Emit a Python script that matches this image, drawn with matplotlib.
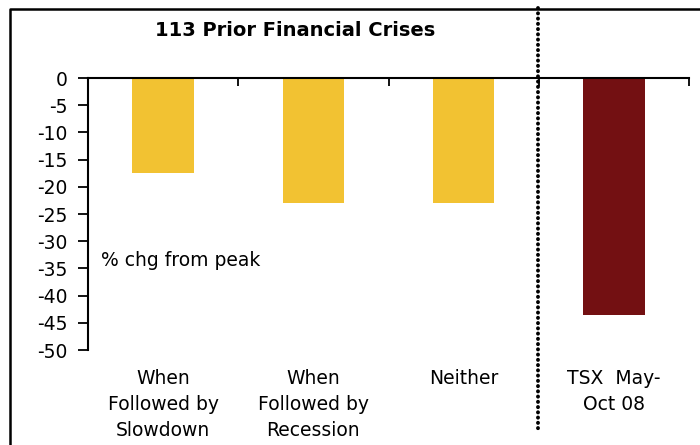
import matplotlib
matplotlib.use("Agg")
import matplotlib.pyplot as plt
from matplotlib.lines import Line2D
import numpy as np

categories = ["When\nFollowed by\nSlowdown", "When\nFollowed by\nRecession", "Neither", "TSX  May-\nOct 08"]
values = [-17.4, -22.9, -22.9, -43.5]
colors = ["#F2C232", "#F2C232", "#F2C232", "#731012"]
yticks = list(range(0, -55, -5))
title = "113 Prior Financial Crises"
note = "% chg from peak"

plt.rcParams['font.family'] = ['DejaVu Sans']
FS = 13.5
W, H = 700, 445
fig = plt.figure(figsize=(7, 4.45), dpi=100)
ax = fig.add_axes([88 / W, 1 - 350 / H, (689 - 88) / W, (350 - 78) / H])

x = np.arange(len(categories))
ax.bar(x, values, width=0.41, color=colors, zorder=2)
ax.set_xlim(-0.5, len(categories) - 0.5)
ax.set_ylim(-50, 0)

ax.set_yticks(yticks)
ax.set_yticklabels([str(v) for v in yticks], fontsize=FS)
ax.tick_params(axis='y', direction='out', length=7, width=1.3, pad=8)

ax.xaxis.tick_top()
ax.set_xticks([])
ax.set_xticks(np.arange(-0.5, len(categories)), minor=True)
ax.tick_params(axis='x', which='minor', direction='in', length=6, width=1.3, top=True, bottom=False)

for s in ['right', 'bottom']:
    ax.spines[s].set_visible(False)
ax.spines['left'].set_linewidth(1.5)
ax.spines['top'].set_linewidth(1.5)

# category labels below plot
for xi, lab in zip(x, categories):
    fig.text((88 + (xi + 0.5) * (601 / 4)) / W, 1 - 369 / H, lab,
             ha='center', va='top', fontsize=FS, linespacing=1.45)

ax.text(0.022, 0.33, note, transform=ax.transAxes, fontsize=FS, ha='left', va='center')

fig.text(295 / W, 1 - 30 / H, title, fontsize=14, fontweight='bold', ha='center', va='center')

# dotted separator
fig.add_artist(Line2D([537.5 / W, 537.5 / W], [1 - 8 / H, 1 - 432 / H], transform=fig.transFigure,
                      color='black', lw=2.8, linestyle=(0, (0.05, 1.3)), dash_capstyle='round'))

# figure frame (left and top visible)
fig.add_artist(Line2D([10 / W, 10 / W, 1.01], [-0.01, 1 - 8.5 / H, 1 - 8.5 / H], transform=fig.transFigure,
                      color='black', lw=1.8))

fig.savefig("out.png", dpi=100)
